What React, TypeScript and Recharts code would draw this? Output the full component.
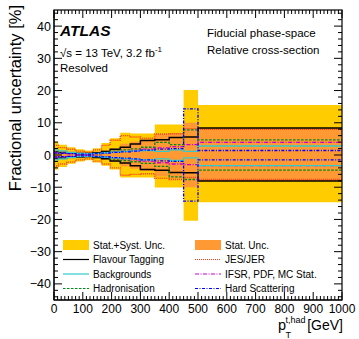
import { Area, ComposedChart, Line, XAxis, YAxis } from "recharts";

const WIDTH = 359;
const HEIGHT = 339;
const PLOT_LEFT = 54;
const PLOT_RIGHT = 342;
const PLOT_TOP = 10;
const PLOT_BOTTOM = 300;

const FONT = '"Liberation Sans", Arial, Helvetica, sans-serif';
const YELLOW = "#ffcc00";
const ORANGE = "#ff9933";

// Bin edges in GeV; the last bin runs 500-1000.
const EDGES = [0, 15, 45, 75, 105, 135, 165, 195, 230, 265, 300, 350, 400, 450, 500, 1000];

// Half-widths (%), one per bin.
const TOTAL_UP = [4.2, 3.2, 2.4, 1.8, 1.4, 2.1, 3.7, 5.2, 6.9, 6.7, 6.7, 9.5, 9.5, 20.2, 15.5];
const TOTAL_DOWN = [4.5, 3.7, 2.7, 2.0, 1.6, 2.3, 3.3, 4.5, 7.0, 7.0, 7.0, 10.1, 10.1, 20.4, 14.7];
const STAT_UP = [1.5, 1.3, 1.1, 1.0, 0.9, 1.1, 1.5, 2.1, 3.5, 4.2, 4.9, 6.5, 6.8, 10.0, 8.3];
const STAT_DOWN = [1.5, 1.3, 1.1, 1.0, 0.9, 1.1, 1.5, 2.1, 3.5, 4.3, 5.0, 6.7, 7.4, 10.0, 8.1];
const FT_UP = [1.0, 0.8, 0.6, 0.5, 0.5, 0.7, 1.1, 1.8, 2.4, 3.4, 4.5, 4.7, 5.4, 5.6, 8.4];
const FT_DOWN = [1.1, 0.9, 0.7, 0.6, 0.5, 0.8, 1.2, 1.9, 2.5, 3.3, 4.5, 4.7, 5.4, 5.5, 8.1];
const JES_UP = [3.0, 2.3, 1.8, 1.2, 0.9, 1.6, 3.0, 4.6, 6.0, 5.6, 5.2, 6.5, 6.6, 8.2, 8.0];
const JES_DOWN = [3.4, 2.8, 2.2, 1.5, 1.2, 1.9, 2.8, 4.0, 6.3, 6.0, 5.8, 7.2, 7.6, 7.0, 7.6];
const HAD_UP = [1.0, 0.7, 0.5, 0.3, 0.3, 0.4, 0.8, 1.2, 1.6, 1.9, 2.4, 3.9, 3.2, 7.8, 4.7];
const HAD_DOWN = [0.9, 0.7, 0.5, 0.3, 0.3, 0.4, 0.7, 1.3, 1.7, 2.1, 2.6, 3.5, 6.8, 7.6, 4.7];
const IFSR_UP = [0.8, 0.6, 0.4, 0.3, 0.2, 0.4, 0.6, 0.9, 1.1, 1.4, 1.8, 2.2, 2.6, 3.2, 3.9];
const IFSR_DOWN = [0.8, 0.6, 0.4, 0.3, 0.2, 0.4, 0.6, 0.9, 1.2, 1.5, 1.9, 2.4, 2.8, 3.0, 3.3];
const BKG_UP = [1.6, 1.3, 0.8, 0.5, 0.4, 0.5, 0.7, 0.9, 1.1, 1.3, 1.4, 1.1, 1.6, 1.1, 2.8];
const BKG_DOWN = [1.5, 1.2, 0.8, 0.5, 0.4, 0.5, 0.7, 0.9, 1.1, 1.3, 1.5, 1.2, 1.7, 0.9, 3.3];
const HS_UP = [0.6, 0.5, 0.4, 0.3, 0.3, 0.4, 0.6, 0.8, 1.0, 1.2, 1.5, 1.8, 2.0, 14.3, 1.4];
const HS_DOWN = [0.6, 0.5, 0.4, 0.3, 0.3, 0.4, 0.6, 0.8, 1.0, 1.2, 1.5, 1.8, 2.0, 14.3, 1.5];

const X_MAJOR = [0, 100, 200, 300, 400, 500, 600, 700, 800, 900, 1000];
const Y_MAJOR = [-40, -30, -20, -10, 0, 10, 20, 30, 40];
// ROOT-style minor ticks: 8 per 100 GeV on x, every 2 % on y.
const X_TICKS = Array.from({ length: 81 }, (_, i) => i * 12.5);
const Y_TICKS = Array.from({ length: 45 }, (_, i) => -44 + i * 2);

interface Source {
  key: string;
  name: string;
  color: string;
  dash?: string;
  width: number;
  up: number[];
  down: number[];
}

const SOURCES: Source[] = [
  { key: "jes", name: "JES/JER", color: "#ff3a1a", dash: "1 1", width: 1.4, up: JES_UP, down: JES_DOWN },
  { key: "ft", name: "Flavour Tagging", color: "#000000", width: 1.5, up: FT_UP, down: FT_DOWN },
  { key: "had", name: "Hadronisation", color: "#00881a", dash: "2.5 1.5", width: 1.3, up: HAD_UP, down: HAD_DOWN },
  { key: "ifsr", name: "IFSR, PDF, MC Stat.", color: "#cc00cc", dash: "4 1.5 1 1.5", width: 1.3, up: IFSR_UP, down: IFSR_DOWN },
  { key: "bkg", name: "Backgrounds", color: "#33cccc", width: 1.3, up: BKG_UP, down: BKG_DOWN },
  { key: "hs", name: "Hard Scattering", color: "#0000ff", dash: "3 1.5 1 1.5", width: 1.3, up: HS_UP, down: HS_DOWN },
];

// One row per bin edge; the final edge repeats the last bin so the step closes at 1000.
const rows = EDGES.map((x, i) => {
  const b = Math.min(i, EDGES.length - 2);
  const row: Record<string, unknown> = {
    x,
    total: [-TOTAL_DOWN[b], TOTAL_UP[b]],
    stat: [-STAT_DOWN[b], STAT_UP[b]],
  };
  for (const s of SOURCES) {
    row[`${s.key}Up`] = s.up[b];
    row[`${s.key}Down`] = -s.down[b];
  }
  return row;
});

const byKey = (key: string) => SOURCES.find((s) => s.key === key)!;

const LEGEND_ROWS = [245, 259.5, 274, 288.5];
const LEGEND_COLS = [63, 195];
const LEGEND: { label: string; col: number; row: number; fill?: string; source?: Source }[] = [
  { label: "Stat.+Syst. Unc.", col: 0, row: 0, fill: YELLOW },
  { label: "Flavour Tagging", col: 0, row: 1, source: byKey("ft") },
  { label: "Backgrounds", col: 0, row: 2, source: byKey("bkg") },
  { label: "Hadronisation", col: 0, row: 3, source: byKey("had") },
  { label: "Stat. Unc.", col: 1, row: 0, fill: ORANGE },
  { label: "JES/JER", col: 1, row: 1, source: byKey("jes") },
  { label: "IFSR, PDF, MC Stat.", col: 1, row: 2, source: byKey("ifsr") },
  { label: "Hard Scattering", col: 1, row: 3, source: byKey("hs") },
];

function BottomTick(props: any) {
  const { x, y, payload } = props;
  const v = payload.value as number;
  const major = X_MAJOR.includes(v);
  const len = major ? 8 : 4;
  return (
    <g>
      <line x1={x} x2={x} y1={y} y2={y - len} stroke="#000" />
      <line x1={x} x2={x} y1={PLOT_TOP} y2={PLOT_TOP + len} stroke="#000" />
      {major && (
        <text x={x} y={y + 13} textAnchor="middle" fontSize={12} fontFamily={FONT} fill="#000">
          {v}
        </text>
      )}
    </g>
  );
}

function LeftTick(props: any) {
  const { x, y, payload } = props;
  const v = payload.value as number;
  const major = Y_MAJOR.includes(v);
  const len = major ? 8 : 4;
  return (
    <g>
      <line x1={x} x2={x + len} y1={y} y2={y} stroke="#000" />
      <line x1={PLOT_RIGHT} x2={PLOT_RIGHT - len} y1={y} y2={y} stroke="#000" />
      {major && (
        <text x={x - 3} y={y + 4.5} textAnchor="end" fontSize={12.5} fontFamily={FONT} fill="#000">
          {v < 0 ? `\u2212${-v}` : v}
        </text>
      )}
    </g>
  );
}

function Overlay() {
  return (
    <svg
      width={WIDTH}
      height={HEIGHT}
      style={{ position: "absolute", left: 0, top: 0, pointerEvents: "none" }}
      fontFamily={FONT}
      fill="#000"
    >
      <rect
        x={PLOT_LEFT}
        y={PLOT_TOP}
        width={PLOT_RIGHT - PLOT_LEFT}
        height={PLOT_BOTTOM - PLOT_TOP}
        fill="none"
        stroke="#000"
        strokeWidth={1.2}
      />
      <text x={60} y={36} fontSize={15.5} fontWeight="bold" fontStyle="italic">
        ATLAS
      </text>
      <text x={60} y={57} fontSize={11.5}>
        {"\u221As = 13 TeV, 3.2 fb"}
        <tspan fontSize={8} dy={-5}>
          -1
        </tspan>
      </text>
      <text x={60} y={72} fontSize={11.5}>
        Resolved
      </text>
      <text x={207} y={37} fontSize={11.5}>
        Fiducial phase-space
      </text>
      <text x={207} y={53.5} fontSize={11.5}>
        Relative cross-section
      </text>

      <text x={21} y={5} fontSize={16.5} textAnchor="end" transform="rotate(-90 21 5)">
        Fractional uncertainty [%]
      </text>
      <text x={278} y={330} fontSize={14.5}>
        p
      </text>
      <text x={285.5} y={322.5} fontSize={9}>
        t,had
      </text>
      <text x={285.5} y={337.5} fontSize={9}>
        T
      </text>
      <text x={343} y={330} fontSize={14} textAnchor="end">
        [GeV]
      </text>

      {LEGEND.map((item) => {
        const x0 = LEGEND_COLS[item.col];
        const cy = LEGEND_ROWS[item.row];
        return (
          <g key={item.label}>
            {item.fill ? (
              <rect x={x0} y={cy - 5} width={26} height={10} fill={item.fill} />
            ) : (
              <line
                x1={x0}
                x2={x0 + 26}
                y1={cy}
                y2={cy}
                stroke={item.source!.color}
                strokeWidth={1.2}
                strokeDasharray={item.source!.dash}
              />
            )}
            <text x={x0 + 30} y={cy + 3.6} fontSize={10}>
              {item.label}
            </text>
          </g>
        );
      })}
    </svg>
  );
}

export default function App() {
  return (
    <div style={{ position: "absolute", left: 0, top: 0, width: WIDTH, height: HEIGHT, background: "#fff" }}>
      <ComposedChart
        width={WIDTH}
        height={HEIGHT}
        data={rows}
        margin={{ top: PLOT_TOP, right: WIDTH - PLOT_RIGHT, bottom: 0, left: 0 }}
      >
        <Area
          type="stepAfter"
          dataKey="total"
          stroke="none"
          fill={YELLOW}
          fillOpacity={1}
          dot={false}
          activeDot={false}
          isAnimationActive={false}
        />
        <Area
          type="stepAfter"
          dataKey="stat"
          stroke="none"
          fill={ORANGE}
          fillOpacity={1}
          dot={false}
          activeDot={false}
          isAnimationActive={false}
        />
        {SOURCES.flatMap((s) =>
          ["Up", "Down"].map((side) => (
            <Line
              key={`${s.key}${side}`}
              type="stepAfter"
              dataKey={`${s.key}${side}`}
              stroke={s.color}
              strokeWidth={s.width}
              strokeDasharray={s.dash}
              dot={false}
              activeDot={false}
              isAnimationActive={false}
            />
          )),
        )}
        <XAxis
          dataKey="x"
          type="number"
          domain={[0, 1000]}
          ticks={X_TICKS}
          interval={0}
          allowDataOverflow
          height={HEIGHT - PLOT_BOTTOM}
          tickSize={0}
          tickMargin={0}
          tickLine={false}
          axisLine={{ stroke: "#000" }}
          tick={BottomTick}
        />
        <YAxis
          type="number"
          domain={[-45, 45]}
          ticks={Y_TICKS}
          interval={0}
          allowDataOverflow
          width={PLOT_LEFT}
          tickSize={0}
          tickMargin={0}
          tickLine={false}
          axisLine={{ stroke: "#000" }}
          tick={LeftTick}
        />
      </ComposedChart>
      <Overlay />
    </div>
  );
}
